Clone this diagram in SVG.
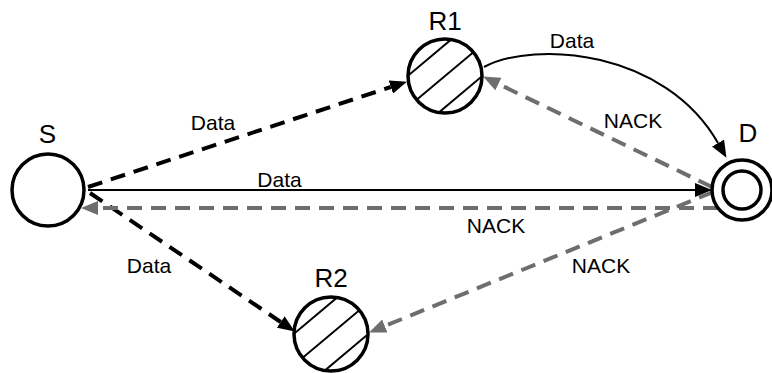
<svg xmlns="http://www.w3.org/2000/svg" width="772" height="373" viewBox="0 0 772 373">
<style>
.node{fill:#fff;stroke:#000;stroke-width:3.5}
.hatch{stroke:#000;stroke-width:2}
.lbl{font-family:"Liberation Sans",Arial,sans-serif;font-size:21px;fill:#000;text-anchor:middle}
.nlbl{font-family:"Liberation Sans",Arial,sans-serif;font-size:26px;fill:#000;text-anchor:middle}
.solid{fill:none;stroke:#000;stroke-width:2}
.bdash{fill:none;stroke:#000;stroke-width:4;stroke-dasharray:15 9}
.gdash{fill:none;stroke:#6e6e6e;stroke-width:4;stroke-dasharray:15 9}
</style>
<defs>
<marker id="ab" markerUnits="userSpaceOnUse" markerWidth="17" markerHeight="14" refX="0" refY="7" orient="auto"><path d="M0,0 L17,7 L0,14 z" fill="#000"/></marker>
<marker id="ag" markerUnits="userSpaceOnUse" markerWidth="17" markerHeight="14" refX="0" refY="7" orient="auto"><path d="M0,0 L17,7 L0,14 z" fill="#6e6e6e"/></marker>
<clipPath id="c1"><circle cx="445" cy="76" r="37"/></clipPath>
<clipPath id="c2"><circle cx="331" cy="334" r="37"/></clipPath>
</defs>
<g id="connectors">
<path class="bdash" d="M88,187 L390.8,87" marker-end="url(#ab)"/>
<path class="solid" d="M88,190 L695,190" marker-end="url(#ab)"/>
<path class="bdash" d="M90,193 L280.7,322" marker-end="url(#ab)"/>
<path class="solid" d="M484,67 C535,40 665,50 718,143" marker-end="url(#ab)"/>
<path class="gdash" d="M712,187 L498.4,84" marker-end="url(#ag)"/>
<path class="gdash" d="M718,208 L98,208" marker-end="url(#ag)"/>
<path class="gdash" d="M713,192 L384.8,326" marker-end="url(#ag)"/>
<text class="lbl" x="213" y="130">Data</text>
<text class="lbl" x="279.5" y="187">Data</text>
<text class="lbl" x="572" y="48">Data</text>
<text class="lbl" x="149" y="273">Data</text>
<text class="lbl" x="633" y="128">NACK</text>
<text class="lbl" x="496" y="233">NACK</text>
<text class="lbl" x="601" y="273">NACK</text>
</g>
<g id="S">
<circle class="node" cx="48" cy="190" r="36"/>
<text class="nlbl" x="47.5" y="143">S</text>
</g>
<g id="R1">
<circle cx="445" cy="76" r="37" fill="#fff"/>
<g clip-path="url(#c1)" transform="rotate(-40 445 76)">
<line class="hatch" x1="395" y1="52" x2="495" y2="52"/>
<line class="hatch" x1="395" y1="76" x2="495" y2="76"/>
<line class="hatch" x1="395" y1="100" x2="495" y2="100"/>
</g>
<circle class="node" cx="445" cy="76" r="37" style="fill:none"/>
<text class="nlbl" x="445" y="30">R1</text>
</g>
<g id="R2">
<circle cx="331" cy="334" r="37" fill="#fff"/>
<g clip-path="url(#c2)" transform="rotate(-40 331 334)">
<line class="hatch" x1="281" y1="310" x2="381" y2="310"/>
<line class="hatch" x1="281" y1="334" x2="381" y2="334"/>
<line class="hatch" x1="281" y1="358" x2="381" y2="358"/>
</g>
<circle class="node" cx="331" cy="334" r="37" style="fill:none"/>
<text class="nlbl" x="331" y="287">R2</text>
</g>
<g id="D">
<circle class="node" cx="742" cy="190" r="30"/>
<circle class="node" cx="742" cy="190" r="19" style="fill:none"/>
<text class="nlbl" x="748" y="142">D</text>
</g>
</svg>
